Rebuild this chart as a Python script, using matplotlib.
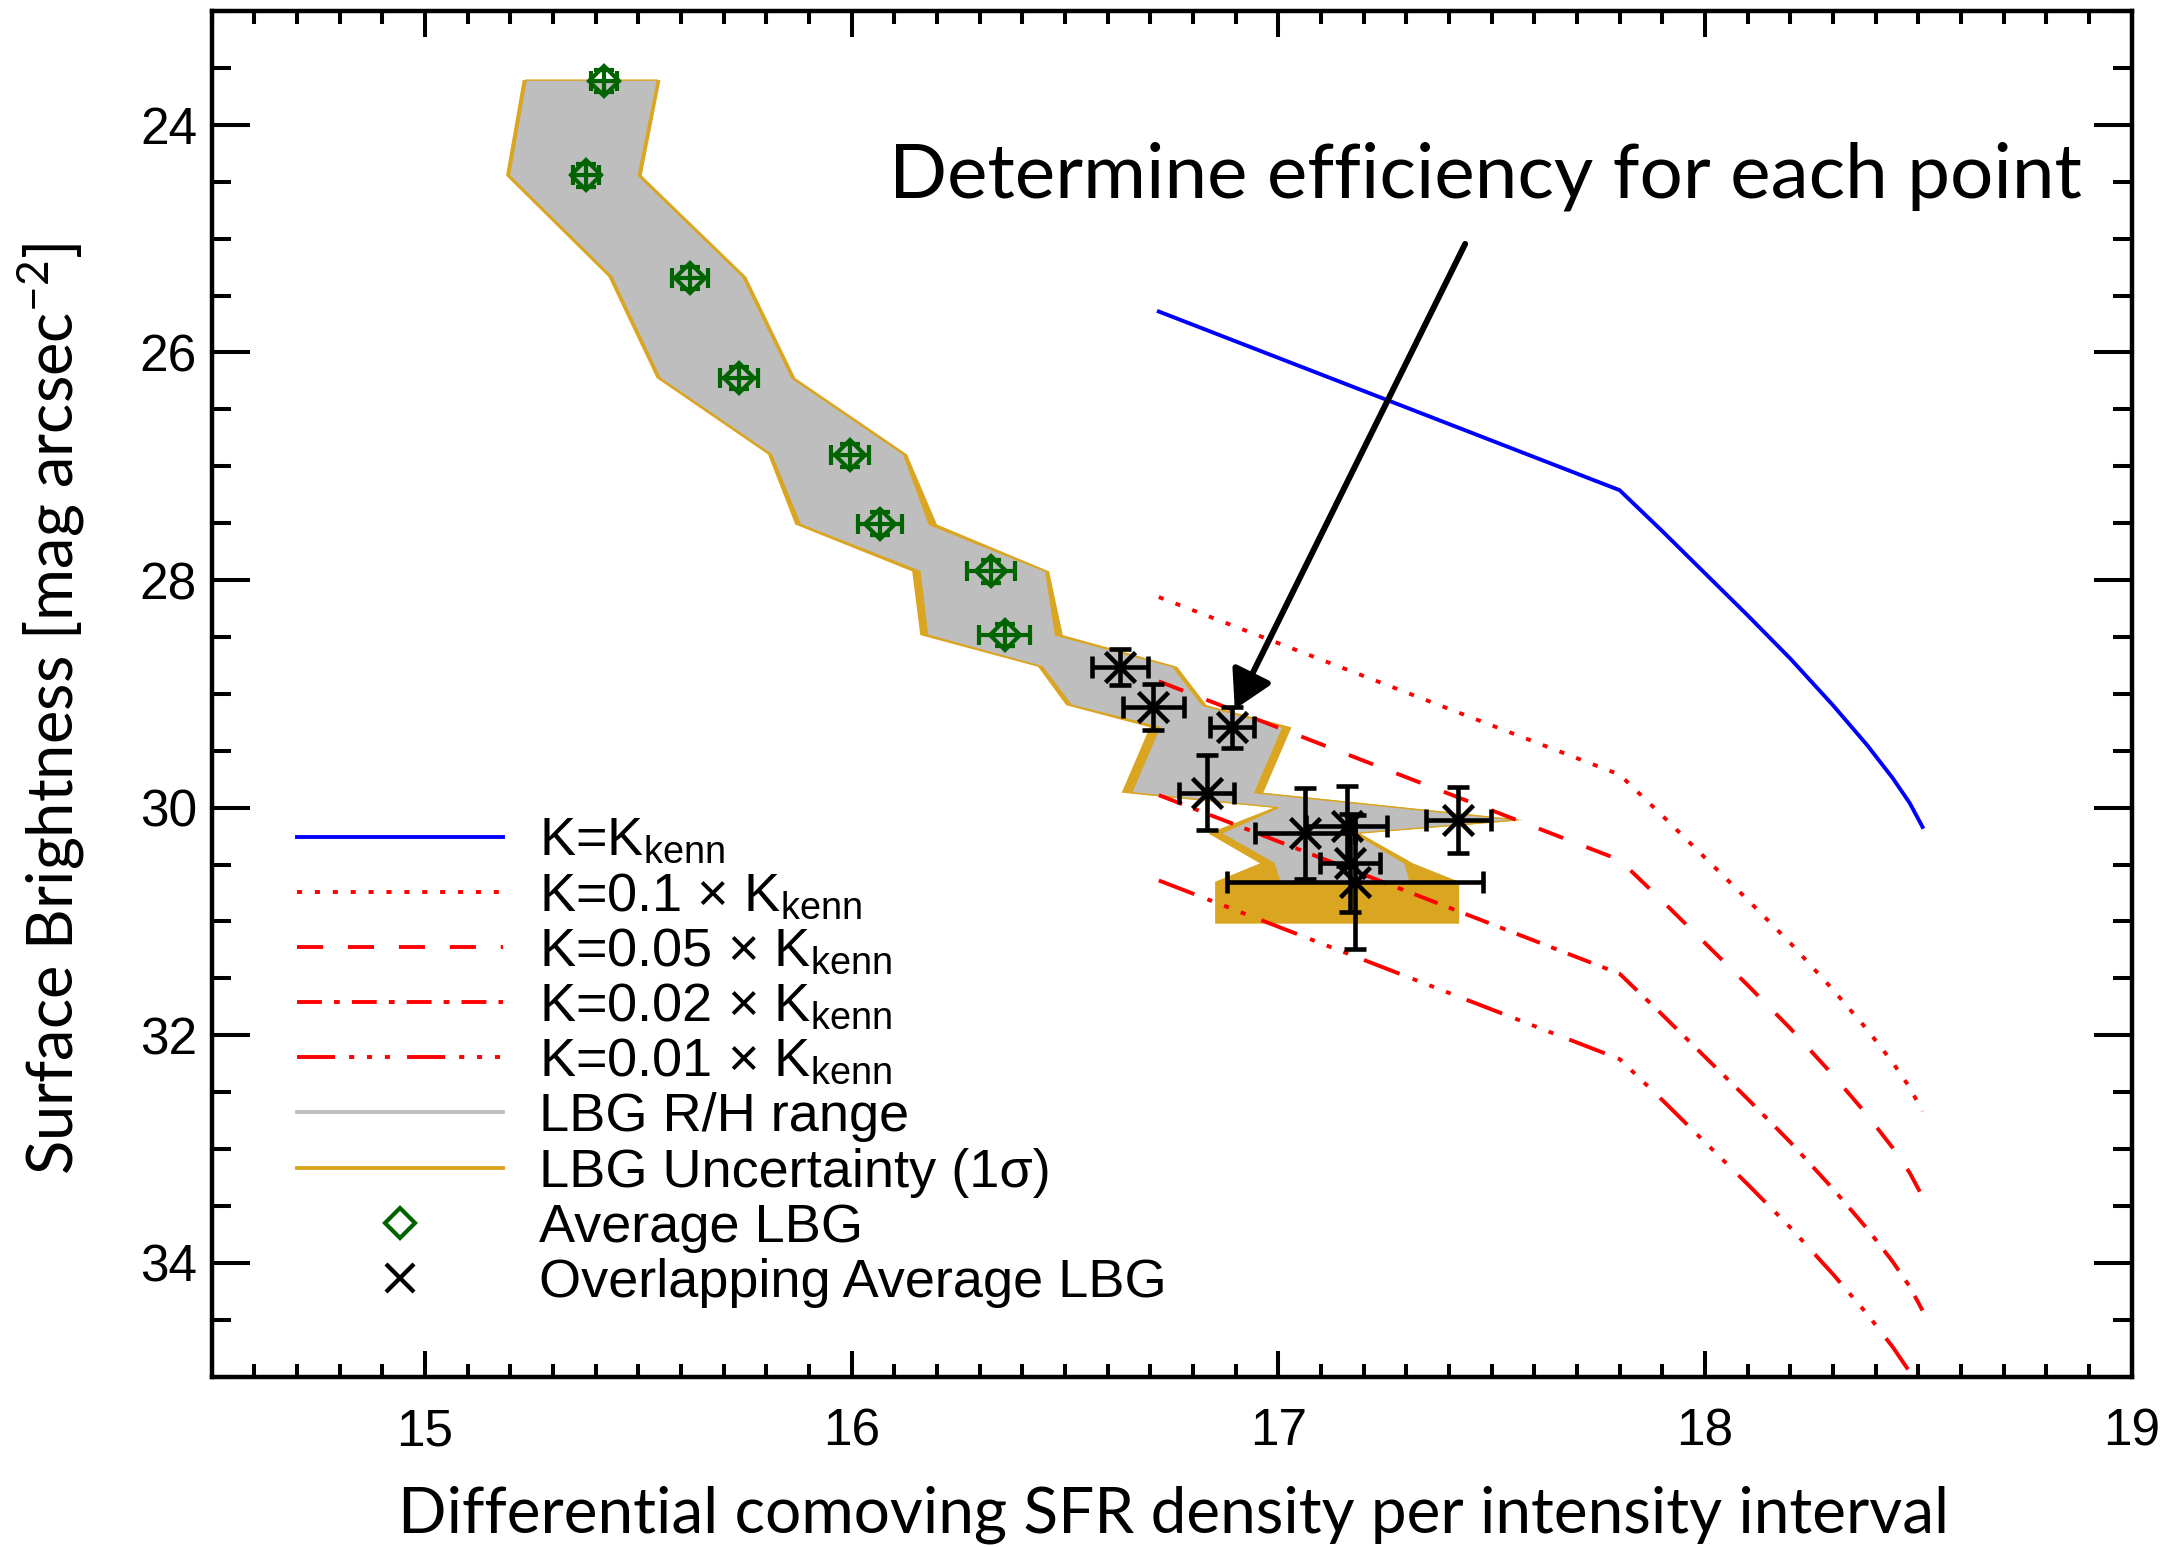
import matplotlib
matplotlib.use("Agg")
import matplotlib.pyplot as plt
from matplotlib.lines import Line2D
from matplotlib.ticker import MultipleLocator

plt.rcParams['font.family'] = ['Liberation Sans', 'DejaVu Sans']

# Model tracks: surface brightness vs. SFR density for a given efficiency K
sfr_x = [16.72, 17.80, 17.90, 18.00, 18.10, 18.20, 18.30, 18.38, 18.44, 18.48, 18.51]
sb_kenn = [25.64, 27.21, 27.57, 27.94, 28.31, 28.69, 29.10, 29.45, 29.74, 29.96, 30.17]
sb_k010 = [28.15, 29.71, 30.07, 30.44, 30.81, 31.19, 31.60, 31.95, 32.24, 32.46, 32.67]
sb_k005 = [28.89, 30.46, 30.82, 31.19, 31.56, 31.94, 32.35, 32.70, 32.99, 33.21, 33.42]
sb_k002 = [29.89, 31.46, 31.82, 32.19, 32.56, 32.94, 33.35, 33.70, 33.99, 34.21, 34.42]
sb_k001 = [30.64, 32.21, 32.57, 32.94, 33.31, 33.69, 34.10, 34.45, 34.74, 34.96, 35.17]

# LBG R/H range band (outline, left edge down then right edge up)
rng_x = [15.237, 15.198, 15.438, 15.551, 15.812, 15.880, 16.160, 16.178,
         16.447, 16.515, 16.722, 16.656, 17.000, 16.866, 16.990, 17.004,
         17.309, 17.297, 17.180, 17.560, 16.945, 17.011, 16.822, 16.753,
         16.478, 16.455, 16.182, 16.122, 15.860, 15.745, 15.500, 15.545]
rng_y = [23.606, 24.445, 25.335, 26.225, 26.896, 27.512, 27.924, 28.484,
         28.762, 29.100, 29.294, 29.869, 30.000, 30.227, 30.490, 30.652,
         30.652, 30.490, 30.227, 30.109, 29.869, 29.294, 29.100, 28.762,
         28.484, 27.924, 27.512, 26.896, 26.225, 25.335, 24.445, 23.606]

# 1-sigma uncertainty band around it
unc_x = [15.229, 15.190, 15.430, 15.543, 15.804, 15.868, 16.142, 16.161,
         16.437, 16.503, 16.699, 16.633, 16.990, 16.836, 16.957, 16.852,
         16.852, 17.424, 17.424, 17.316, 17.192, 17.574, 16.965, 17.031,
         16.832, 16.763, 16.495, 16.463, 16.200, 16.130, 15.868, 15.753,
         15.508, 15.552]
unc_y = [23.606, 24.445, 25.335, 26.225, 26.896, 27.512, 27.924, 28.484,
         28.762, 29.100, 29.294, 29.869, 30.000, 30.227, 30.490, 30.652,
         31.020, 31.020, 30.652, 30.490, 30.227, 30.109, 29.869, 29.294,
         29.100, 28.762, 28.484, 27.924, 27.512, 26.896, 26.225, 25.335,
         24.445, 23.606]

# Average LBG profile points
lbg_x = [15.420, 15.378, 15.621, 15.736, 15.996, 16.066, 16.327, 16.359]
lbg_y = [23.613, 24.444, 25.345, 26.224, 26.905, 27.505, 27.924, 28.484]
lbg_xerr = [0.030, 0.030, 0.043, 0.045, 0.045, 0.052, 0.056, 0.060]
lbg_yerr = [0.10, 0.10, 0.10, 0.10, 0.10, 0.10, 0.10, 0.10]

# Points where the LBG profile overlaps the DLA models
ovl_x = [16.629, 16.707, 16.891, 16.832, 17.062, 17.160, 17.422, 17.168, 17.180]
ovl_y = [28.762, 29.118, 29.294, 29.869, 30.227, 30.162, 30.109, 30.490, 30.657]
ovl_xerr = [0.066, 0.072, 0.051, 0.064, 0.117, 0.094, 0.076, 0.070, 0.300]
ovl_yerr = [0.16, 0.20, 0.18, 0.33, 0.40, 0.35, 0.29, 0.43, 0.59]

GRAY = '#BEBEBE'
GOLD = '#DAA520'
GREEN = '#006400'

fig = plt.figure(figsize=(21.84, 15.47), dpi=100)
ax = fig.add_axes([0.0969, 0.1102, 0.8791, 0.8826])

ax.fill(unc_x, unc_y, color=GOLD, lw=0, zorder=1)
ax.fill(rng_x, rng_y, facecolor=GRAY, edgecolor=GOLD, lw=1.0, zorder=2)

lw = 2.8
l_kenn, = ax.plot(sfr_x, sb_kenn, color='blue', lw=lw, zorder=3)
l_010, = ax.plot(sfr_x, sb_k010, color='red', lw=lw, zorder=3,
                 linestyle=(0, (1.3, 3.3)))
l_005, = ax.plot(sfr_x, sb_k005, color='red', lw=lw, zorder=3,
                 linestyle=(0, (6.7, 6.4)))
l_002, = ax.plot(sfr_x, sb_k002, color='red', lw=lw, zorder=3,
                 linestyle=(0, (6.4, 3.1, 1.5, 3.1)))
l_001, = ax.plot(sfr_x, sb_k001, color='red', lw=lw, zorder=3,
                 linestyle=(0, (9.8, 3.6, 1.3, 3.3, 1.3, 3.3, 1.3, 4.4)))

ax.errorbar(lbg_x, lbg_y, xerr=lbg_xerr, yerr=lbg_yerr, fmt='D',
            ms=15, mfc='none', mec=GREEN, mew=3.0, ecolor=GREEN,
            elinewidth=3.0, capsize=7, capthick=3.0, zorder=4)
ax.errorbar(ovl_x, ovl_y, xerr=ovl_xerr, yerr=ovl_yerr, fmt='x',
            ms=22, mec='black', mew=3.3, ecolor='black',
            elinewidth=3.3, capsize=8, capthick=3.3, zorder=5)

ax.annotate('', xy=(16.898, 29.136), xytext=(17.438, 25.046),
            arrowprops=dict(arrowstyle='-|>,head_length=2.3,head_width=1.3',
                            lw=4.3, color='black', shrinkA=0, shrinkB=0),
            zorder=6)
ax.text(17.485, 24.642, 'Determine efficiency for each point',
        family='Lato', fontsize=55, ha='center', va='baseline', zorder=6)

ax.set_xlim(14.5, 19)
ax.set_ylim(35, 23)
ax.set_xticks([15, 16, 17, 18, 19])
ax.xaxis.set_minor_locator(MultipleLocator(0.1))
ax.yaxis.set_major_locator(MultipleLocator(2))
ax.yaxis.set_minor_locator(MultipleLocator(0.5))

for s in ax.spines.values():
    s.set_linewidth(3.2)
ax.tick_params(which='both', direction='in', top=True, right=True,
               width=2.9, labelsize=37)
ax.tick_params(axis='x', which='major', length=18.7, pad=22)
ax.tick_params(axis='x', which='minor', length=9.4)
ax.tick_params(axis='y', which='major', length=27.7, pad=10.5)
ax.tick_params(axis='y', which='minor', length=13.9)

ax.set_xlabel('Differential comoving SFR density per intensity interval',
              family='Lato', fontsize=46, va='baseline')
ax.xaxis.set_label_coords(0.501, -0.1146)
ax.set_ylabel(r'Surface Brightness [mag arcsec$^{\mathregular{-2}}$]',
              family='Lato', fontsize=45.5, va='baseline')
ax.yaxis.set_label_coords(-0.0717, 0.489)

handles = [
    l_kenn, l_010, l_005, l_002, l_001,
    Line2D([], [], color=GRAY, lw=lw),
    Line2D([], [], color=GOLD, lw=lw),
    Line2D([], [], ls='none', marker='D', ms=15, mfc='none', mec=GREEN, mew=3.0),
    Line2D([], [], ls='none', marker='x', ms=20, mec='black', mew=3.1),
]
labels = [
    r'K=K$_{\mathregular{kenn}}$',
    r'K=0.1 × K$_{\mathregular{kenn}}$',
    r'K=0.05 × K$_{\mathregular{kenn}}$',
    r'K=0.02 × K$_{\mathregular{kenn}}$',
    r'K=0.01 × K$_{\mathregular{kenn}}$',
    'LBG R/H range',
    'LBG Uncertainty (1σ)',
    'Average LBG',
    'Overlapping Average LBG',
]
leg = ax.legend(handles, labels, loc='upper left', bbox_to_anchor=(0.0445, 0.410),
                frameon=False, fontsize=39, borderpad=0, borderaxespad=0,
                handlelength=3.8, handletextpad=0.67, labelspacing=0.095)

fig.savefig('out.png', dpi=100)
